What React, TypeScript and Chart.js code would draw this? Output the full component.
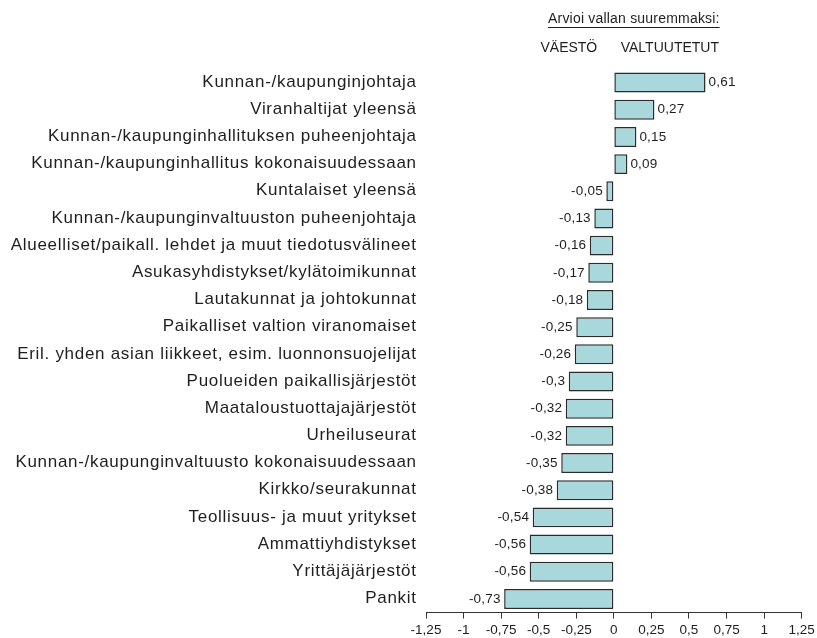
import React, { useEffect, useRef } from 'react';
import { Chart, registerables } from 'chart.js';

Chart.register(...registerables);

const categories: string[] = [
  'Kunnan-/kaupunginjohtaja',
  'Viranhaltijat yleensä',
  'Kunnan-/kaupunginhallituksen puheenjohtaja',
  'Kunnan-/kaupunginhallitus kokonaisuudessaan',
  'Kuntalaiset yleensä',
  'Kunnan-/kaupunginvaltuuston puheenjohtaja',
  'Alueelliset/paikall. lehdet ja muut tiedotusvälineet',
  'Asukasyhdistykset/kylätoimikunnat',
  'Lautakunnat ja johtokunnat',
  'Paikalliset valtion viranomaiset',
  'Eril. yhden asian liikkeet, esim. luonnonsuojelijat',
  'Puolueiden paikallisjärjestöt',
  'Maataloustuottajajärjestöt',
  'Urheiluseurat',
  'Kunnan-/kaupunginvaltuusto kokonaisuudessaan',
  'Kirkko/seurakunnat',
  'Teollisuus- ja muut yritykset',
  'Ammattiyhdistykset',
  'Yrittäjäjärjestöt',
  'Pankit',
];

const values: number[] = [
  0.61, 0.27, 0.15, 0.09, -0.05, -0.13, -0.16, -0.17, -0.18, -0.25,
  -0.26, -0.3, -0.32, -0.32, -0.35, -0.38, -0.54, -0.56, -0.56, -0.73,
];

const xMin = -1.25;
const xMax = 1.25;
const xStep = 0.25;

const headerTitle = 'Arvioi vallan suuremmaksi:';
const headerLeft = 'VÄESTÖ';
const headerRight = 'VALTUUTETUT';

const FONT = '"Liberation Sans", Arial, Helvetica, sans-serif';
const TEXT = '#1e1e1e';

const fmt = (v: number) => String(Math.round(v * 100) / 100).replace('.', ',');

const categoryLabelPlugin = {
  id: 'categoryLabels',
  afterDraw(chart: any) {
    const ctx = chart.ctx as CanvasRenderingContext2D;
    const y = chart.scales.y;
    const left = chart.chartArea.left;
    ctx.save();
    ctx.font = `17px ${FONT}`;
    (ctx as any).letterSpacing = '0.7px';
    ctx.fillStyle = TEXT;
    ctx.textAlign = 'right';
    ctx.textBaseline = 'middle';
    categories.forEach((c, i) => {
      ctx.fillText(c, left - 10 + 0.7, y.getPixelForValue(i) - 0.5);
    });
    ctx.restore();
  },
};

const valueLabelPlugin = {
  id: 'valueLabels',
  afterDatasetsDraw(chart: any) {
    const ctx = chart.ctx as CanvasRenderingContext2D;
    const meta = chart.getDatasetMeta(0);
    ctx.save();
    ctx.font = `13.5px ${FONT}`;
    (ctx as any).letterSpacing = '0.2px';
    ctx.fillStyle = TEXT;
    ctx.textBaseline = 'middle';
    meta.data.forEach((bar: any, i: number) => {
      const v = values[i];
      if (v >= 0) {
        ctx.textAlign = 'left';
        ctx.fillText(fmt(v), bar.x + 3, bar.y);
      } else {
        ctx.textAlign = 'right';
        ctx.fillText(fmt(v), bar.x - 3.5, bar.y);
      }
    });
    ctx.restore();
  },
};

const headerPlugin = {
  id: 'header',
  afterDraw(chart: any) {
    const ctx = chart.ctx as CanvasRenderingContext2D;
    const x = chart.scales.x;
    const zero = x.getPixelForValue(0);
    ctx.save();
    ctx.fillStyle = TEXT;
    ctx.textBaseline = 'middle';
    ctx.textAlign = 'center';
    ctx.font = `14px ${FONT}`;
    (ctx as any).letterSpacing = '0.2px';
    const cx = zero + 20;
    ctx.fillText(headerTitle, cx, 19);
    const w = ctx.measureText(headerTitle).width;
    ctx.strokeStyle = TEXT;
    ctx.lineWidth = 1;
    ctx.beginPath();
    ctx.moveTo(cx - w / 2, 27.5);
    ctx.lineTo(cx + w / 2, 27.5);
    ctx.stroke();
    (ctx as any).letterSpacing = '0px';
    ctx.font = `14px ${FONT}`;
    ctx.fillText(headerLeft, zero - 45, 48);
    ctx.fillText(headerRight, zero + 56, 48);
    ctx.restore();
  },
};

export default function App() {
  const ref = useRef<HTMLCanvasElement | null>(null);

  useEffect(() => {
    if (!ref.current) return;
    const chart = new Chart(ref.current, {
      type: 'bar',
      data: {
        labels: categories,
        datasets: [
          {
            data: values,
            backgroundColor: '#A8D8DC',
            borderColor: '#2b2b2b',
            borderWidth: 1.5,
            borderSkipped: false,
            barPercentage: 0.735,
            categoryPercentage: 1,
          },
        ],
      },
      options: {
        indexAxis: 'y',
        responsive: false,
        animation: false,
        layout: { padding: { top: 69, right: 15.3, left: 0, bottom: 0 } },
        plugins: {
          legend: { display: false },
          tooltip: { enabled: false },
        },
        scales: {
          x: {
            type: 'linear',
            min: xMin,
            max: xMax,
            afterFit: (s: any) => {
              s.height = 25.5;
              s.paddingLeft = 0;
              s.paddingRight = 0;
            },
            ticks: {
              stepSize: xStep,
              autoSkip: false,
              maxRotation: 0,
              padding: 4,
              color: TEXT,
              font: { family: FONT, size: 13.5 },
              callback: (v: any) => fmt(Number(v)),
            },
            grid: {
              display: true,
              drawOnChartArea: false,
              drawTicks: true,
              tickLength: 6,
              color: '#333333',
              lineWidth: 1,
            },
            border: { display: true, color: '#333333', width: 1 },
          },
          y: {
            type: 'category',
            afterFit: (s: any) => {
              s.width = 426;
            },
            ticks: { display: false },
            grid: { display: false, drawTicks: false },
            border: { display: false },
          },
        },
      },
      plugins: [categoryLabelPlugin, valueLabelPlugin, headerPlugin],
    });
    return () => chart.destroy();
  }, []);

  return (
    <div style={{ position: 'absolute', left: 0, top: 0, width: 817, height: 638, background: '#ffffff' }}>
      <canvas ref={ref} width={817} height={638} style={{ display: 'block' }} />
    </div>
  );
}
